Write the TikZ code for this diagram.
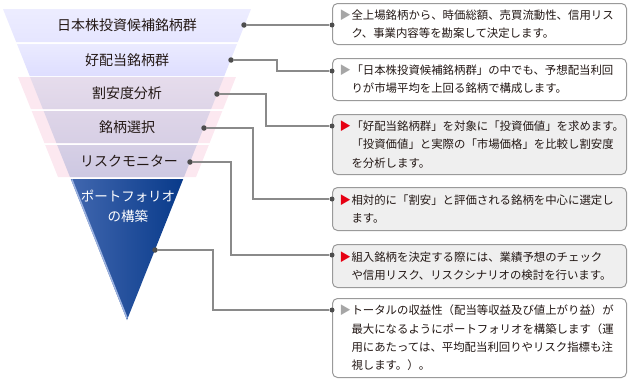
\documentclass[tikz,border=0pt]{standalone}
\usepackage{fontspec}
\setmainfont{Noto Sans CJK JP}
\definecolor{lineGray}{HTML}{8A8A8A}
\definecolor{dotGray}{HTML}{4D4D4D}
\definecolor{boxGray}{HTML}{9A9A9A}
\definecolor{boxFill}{HTML}{EFEFEF}
\definecolor{triGray}{HTML}{A6A6A6}
\definecolor{triRed}{HTML}{E60012}
\definecolor{txtDark}{HTML}{231815}
\definecolor{pinkBg}{HTML}{FCE8F0}
\definecolor{blueLight}{HTML}{4167AF}
\definecolor{blueMid}{HTML}{17479A}
\definecolor{blueDark}{HTML}{083A8A}
\definecolor{blueEdge}{HTML}{9DB3E0}
\newcommand{\mkgray}{\makebox[17pt][r]{\textcolor{triGray}{▶}\hspace{0.5pt}}}
\newcommand{\mkred}{\makebox[17pt][r]{\textcolor{triRed}{▶}\hspace{0.5pt}}}
\newcommand{\hind}{\hspace*{17pt}}
\begin{document}
\begin{tikzpicture}[x=1pt,y=-1pt,
  conn/.style={draw=lineGray, line width=1.1pt},
  dot/.style={circle, fill=dotGray, inner sep=0pt, minimum size=5.5pt},
  bandtxt/.style={font=\fontsize{14}{16}\selectfont, text=txtDark, inner sep=0pt},
  infobox/.style={draw=boxGray, line width=1pt, rounded corners=5pt, fill=white,
    text width=290pt, inner xsep=2pt, inner ysep=0pt, align=left,
    font=\fontsize{11.4}{18.3}\selectfont, text=txtDark, anchor=north west},
  hlbox/.style={infobox, fill=boxFill}
]
\useasboundingbox (0,0) rectangle (630,380);

% funnel bands
\shade[top color=white!10!blue!8, bottom color=blue!10!white] (3,9) -- (251,9) -- (237.8,42) -- (16.2,42) -- cycle;
\shade[top color=blue!8!white, bottom color=blue!13!white] (17,44) -- (237,44) -- (224.3,76) -- (29.7,76) -- cycle;

\fill[pinkBg] (18,77) -- (236,77) -- (223.1,109) -- (30.9,109) -- cycle;
\fill[pinkBg] (31.7,111) -- (222.3,111) -- (209.6,143) -- (44.4,143) -- cycle;
\fill[pinkBg] (45.2,145) -- (208.8,145) -- (196,177) -- (58,177) -- cycle;

\shade[top color={rgb,255:red,230;green,220;blue,236}, bottom color={rgb,255:red,222;green,213;blue,232}] (30.1,77) -- (223.9,77) -- (211.1,109) -- (42.9,109) -- cycle;
\shade[top color={rgb,255:red,222;green,213;blue,232}, bottom color={rgb,255:red,215;green,207;blue,229}] (43.7,111) -- (210.3,111) -- (197.6,143) -- (56.4,143) -- cycle;
\shade[top color={rgb,255:red,214;green,207;blue,229}, bottom color={rgb,255:red,205;green,200;blue,226}] (57.2,145) -- (196.8,145) -- (184,177) -- (70,177) -- cycle;

\shade[left color=blueLight, middle color=blueMid, right color=blueDark] (70.8,179) -- (183.2,179) -- (127,320) -- cycle;
\draw[blueEdge, line width=1.5pt] (71.8,179.5) -- (127,318);

% band labels
\node[bandtxt] (n1) at (127,25) {日本株投資候補銘柄群};
\node[bandtxt] (n2) at (127,60) {好配当銘柄群};
\node[bandtxt] (n3) at (127,93) {割安度分析};
\node[bandtxt] (n4) at (127,127) {銘柄選択};
\node[bandtxt] (n5) at (129,161) {リスクモニター};
\node[bandtxt, text=white, align=center, font=\fontsize{13.5}{20}\selectfont] (n6) at (128,206) {ポートフォリオ\\の構築};

% info boxes
\node[infobox, minimum height=41pt] (b1) at (332,3) {\mkgray 全上場銘柄から、時価総額、売買流動性、信用リス\\\hind ク、事業内容等を勘案して決定します。};
\node[infobox, minimum height=42pt] (b2) at (332,58) {\mkgray「日本株投資候補銘柄群」の中でも、予想配当利回\\\hind りが市場平均を上回る銘柄で構成します。};
\node[hlbox, minimum height=60pt] (b3) at (332,114) {\mkred「好配当銘柄群」を対象に「投資価値」を求めます。\\\hind「投資価値」と実際の「市場価格」を比較し割安度\\\hind を分析します。};
\node[hlbox, minimum height=43pt] (b4) at (332,187) {\mkred 相対的に「割安」と評価される銘柄を中心に選定し\\\hind ます。};
\node[hlbox, minimum height=43pt] (b5) at (332,244) {\mkred 組入銘柄を決定する際には、業績予想のチェック\\\hind や信用リスク、リスクシナリオの検討を行います。};
\node[infobox, minimum height=79pt] (b6) at (332,298) {\mkgray トータルの収益性（配当等収益及び値上がり益）が\\\hind 最大になるようにポートフォリオを構築します（運\\\hind 用にあたっては、平均配当利回りやリスク指標も注\\\hind 視します。）。};

% dots on funnel
\node[dot] (d1) at (244,25) {};
\node[dot] (d2) at (231,60) {};
\node[dot] (d3) at (217,94) {};
\node[dot] (d4) at (204,128) {};
\node[dot] (d5) at (190,162) {};
\node[dot] (d6) at (155,250) {};

% dots on boxes
\node[dot, minimum size=5pt] (t1) at (332,25) {};
\node[dot, minimum size=5pt] (t2) at (332,71) {};
\node[dot, minimum size=5pt] (t3) at (332,126) {};
\node[dot, minimum size=5pt] (t4) at (332,199) {};
\node[dot, minimum size=5pt] (t5) at (332,255) {};
\node[dot, minimum size=5pt] (t6) at (332,310) {};

% connectors
\draw[conn] (d1) -- (t1);
\draw[conn] (d2) -- (277,60) |- (t2);
\draw[conn] (d3) -- (266,94) |- (t3);
\draw[conn] (d4) -- (253,128) |- (t4);
\draw[conn] (d5) -- (231,162) |- (t5);
\draw[conn] (d6) -- (213,250) |- (t6);
\end{tikzpicture}
\end{document}
